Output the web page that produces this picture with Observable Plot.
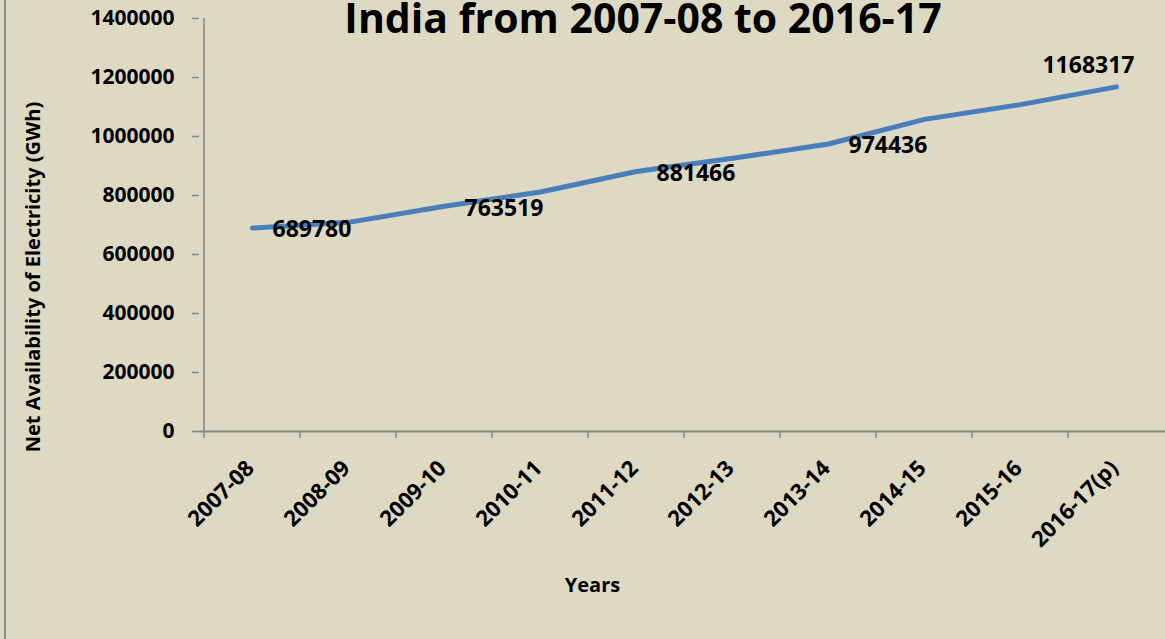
<!DOCTYPE html>
<html>
<head>
<meta charset="utf-8">
<script src="https://cdn.jsdelivr.net/npm/d3@7"></script>
<script src="https://cdn.jsdelivr.net/npm/@observablehq/plot@0.6"></script>
<style>
  html, body { margin: 0; padding: 0; background: #DDD9C3; }
  #wrap { position: relative; width: 1165px; height: 639px; overflow: hidden; background: #DDD9C3; font-family: "Open Sans", sans-serif; }
  #border { position: absolute; left: 4px; top: 0; width: 2px; height: 639px; background: #8a8a8a; }
  #title { position: absolute; left: 0; top: -11px; width: 1286px; text-align: center; font-size: 41px; font-weight: bold; color: #000; line-height: normal; white-space: nowrap; z-index: 2; }
  #chart { position: absolute; left: 0; top: 0; }
</style>
</head>
<body>
<div id="wrap">
  <div id="border"></div>
  <div id="chart"></div>
  <div id="title">India from 2007-08 to 2016-17</div>
</div>
<script>
// ---- data ----
const years = ["2007-08", "2008-09", "2009-10", "2010-11", "2011-12", "2012-13", "2013-14", "2014-15", "2015-16", "2016-17(p)"];
const netAvailability = [689780, 709000, 763519, 812000, 881466, 926000, 974436, 1058000, 1108000, 1168317];
const labelledYears = ["2007-08", "2009-10", "2011-12", "2013-14"];
const topLabelYear = "2016-17(p)";
const yTicks = [0, 200000, 400000, 600000, 800000, 1000000, 1200000, 1400000];
const yAxisTitle = "Net Availability of Electricity (GWh)";
const xAxisTitle = "Years";

const data = years.map((year, i) => ({year, value: netAvailability[i]}));
const half = (1168 - 199) / years.length / 2;
const axisGray = "#868686";

const chart = Plot.plot({
  width: 1165,
  height: 639,
  marginLeft: 199,
  marginRight: 0,
  marginTop: 18,
  marginBottom: 208,
  style: {background: "transparent", color: "black", fontFamily: "'Open Sans', sans-serif", overflow: "visible"},
  x: {type: "point", domain: years, range: [199, 1168], padding: 0.5},
  y: {domain: [0, 1400000]},
  marks: [
    // y axis line and x axis line
    Plot.ruleX([years[0]], {dx: -half, stroke: axisGray, strokeWidth: 1.5}),
    Plot.ruleY([0], {stroke: axisGray, strokeWidth: 2}),
    // y axis
    Plot.axisY({ticks: yTicks, tickSize: 7, tickPadding: 18, tickFormat: d => String(d),
      fontSize: 21, fontWeight: "bold", stroke: axisGray, strokeWidth: 1.5, fill: "black", label: null}),
    // x boundary ticks (between categories)
    Plot.axisX({tickSize: 7, dx: -half, tickFormat: () => "", stroke: axisGray, strokeWidth: 1.5, label: null}),
    // x labels
    Plot.axisX({tickSize: 0, tickPadding: 33, dx: -2, tickRotate: -45, fontSize: 22, fontWeight: "bold", fill: "black", label: null}),
    // line
    Plot.line(data, {x: "year", y: "value", stroke: "#4a7ebb", strokeWidth: 5, strokeLinecap: "round", strokeLinejoin: "round"}),
    // data labels
    Plot.text(data.filter(d => labelledYears.includes(d.year)), {x: "year", y: "value", text: d => String(d.value),
      textAnchor: "start", dx: 20, dy: 2, fontSize: 23, fontWeight: "bold", fill: "black"}),
    Plot.text(data.filter(d => d.year === topLabelYear), {x: "year", y: "value", text: d => String(d.value),
      textAnchor: "middle", dx: -28, dy: -21, fontSize: 23, fontWeight: "bold", fill: "black"}),
    // axis titles
    Plot.text([yAxisTitle], {frameAnchor: "left", text: d => d, rotate: -90, dx: -166, dy: 52, textAnchor: "middle", lineAnchor: "middle",
      fontSize: 20, fontWeight: "bold", fill: "black"}),
    Plot.text([xAxisTitle], {frameAnchor: "bottom", text: d => d, dx: -90, dy: 154, textAnchor: "middle", lineAnchor: "middle",
      fontSize: 20, fontWeight: "bold", fill: "black"})
  ]
});
document.getElementById("chart").appendChild(chart);
</script>
</body>
</html>
